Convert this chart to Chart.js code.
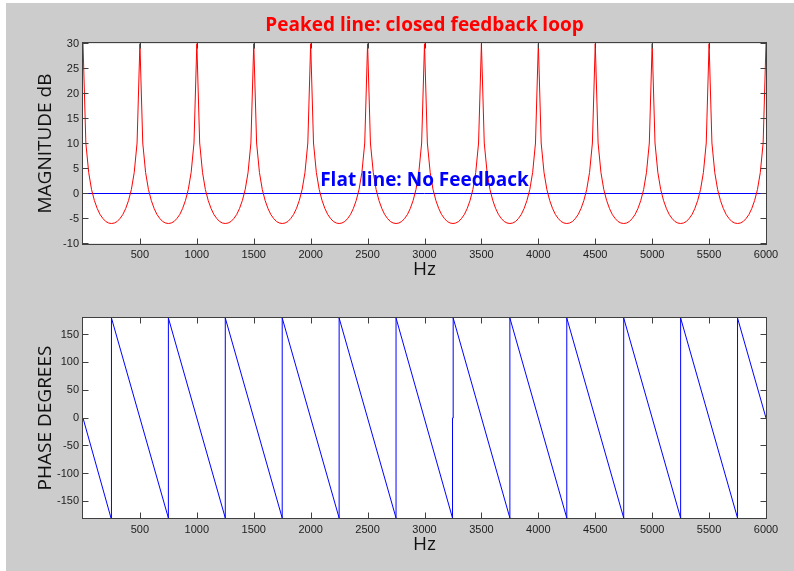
<!DOCTYPE html>
<html>
<head>
<meta charset="utf-8">
<script src="https://cdn.jsdelivr.net/npm/chart.js@4.4.1/dist/chart.umd.min.js"></script>
<style>
  body { margin: 0; background: #fff; }
  .figure { position: absolute; left: 6px; top: 3px; width: 788px; height: 568px; background: #cccccc; }
  canvas { position: absolute; left: 0; }
  #magChart { top: 0; }
  #phaseChart { top: 300px; }
</style>
</head>
<body>
<div class="figure">
  <canvas id="magChart" width="788" height="300"></canvas>
  <canvas id="phaseChart" width="788" height="268"></canvas>
</div>
<script>
// comb filter response, sampled every 25 Hz from 0 to 6000 Hz
const magStepHz = 25;
const magDb = [
  30, 10.1, 4.2, 0.8, -1.4, -3.0, -4.2, -5.0, -5.6, -5.9, -6.0, -5.9, -5.6, -5.0, -4.2, -3.0, -1.4, 0.8, 4.2, 10.1,
  30, 10.1, 4.2, 0.8, -1.4, -3.0, -4.2, -5.0, -5.6, -5.9, -6.0, -5.9, -5.6, -5.0, -4.2, -3.0, -1.4, 0.8, 4.2, 10.1,
  30, 10.1, 4.2, 0.8, -1.4, -3.0, -4.2, -5.0, -5.6, -5.9, -6.0, -5.9, -5.6, -5.0, -4.2, -3.0, -1.4, 0.8, 4.2, 10.1,
  30, 10.1, 4.2, 0.8, -1.4, -3.0, -4.2, -5.0, -5.6, -5.9, -6.0, -5.9, -5.6, -5.0, -4.2, -3.0, -1.4, 0.8, 4.2, 10.1,
  30, 10.1, 4.2, 0.8, -1.4, -3.0, -4.2, -5.0, -5.6, -5.9, -6.0, -5.9, -5.6, -5.0, -4.2, -3.0, -1.4, 0.8, 4.2, 10.1,
  30, 10.1, 4.2, 0.8, -1.4, -3.0, -4.2, -5.0, -5.6, -5.9, -6.0, -5.9, -5.6, -5.0, -4.2, -3.0, -1.4, 0.8, 4.2, 10.1,
  30, 10.1, 4.2, 0.8, -1.4, -3.0, -4.2, -5.0, -5.6, -5.9, -6.0, -5.9, -5.6, -5.0, -4.2, -3.0, -1.4, 0.8, 4.2, 10.1,
  30, 10.1, 4.2, 0.8, -1.4, -3.0, -4.2, -5.0, -5.6, -5.9, -6.0, -5.9, -5.6, -5.0, -4.2, -3.0, -1.4, 0.8, 4.2, 10.1,
  30, 10.1, 4.2, 0.8, -1.4, -3.0, -4.2, -5.0, -5.6, -5.9, -6.0, -5.9, -5.6, -5.0, -4.2, -3.0, -1.4, 0.8, 4.2, 10.1,
  30, 10.1, 4.2, 0.8, -1.4, -3.0, -4.2, -5.0, -5.6, -5.9, -6.0, -5.9, -5.6, -5.0, -4.2, -3.0, -1.4, 0.8, 4.2, 10.1,
  30, 10.1, 4.2, 0.8, -1.4, -3.0, -4.2, -5.0, -5.6, -5.9, -6.0, -5.9, -5.6, -5.0, -4.2, -3.0, -1.4, 0.8, 4.2, 10.1,
  30, 10.1, 4.2, 0.8, -1.4, -3.0, -4.2, -5.0, -5.6, -5.9, -6.0, -5.9, -5.6, -5.0, -4.2, -3.0, -1.4, 0.8, 4.2, 10.1,
  30
];

// no feedback: 0 dB everywhere
const flatHz = [0, 6000];
const flatDb = [0, 0];

// phase corners of the sawtooth
const phaseHz = [0, 246, 246, 252, 252, 750, 750, 1250, 1250, 1750, 1750, 2250, 2250, 2750, 2750,
  3246, 3246, 3252, 3252, 3750, 3750, 4250, 4250, 4750, 4750, 5250, 5250, 5750, 5750, 6000];
const phaseDeg = [0, -180, 0, 0, 180, -180, 180, -180, 180, -180, 180, -180, 180, -180, 180,
  -180, 0, 0, 180, -180, 180, -180, 180, -180, 180, -180, 180, -180, 180, 0];

const hzTicks = [500, 1000, 1500, 2000, 2500, 3000, 3500, 4000, 4500, 5000, 5500, 6000];
const dbTicks = [-10, -5, 0, 5, 10, 15, 20, 25, 30];
const degTicks = [-150, -100, -50, 0, 50, 100, 150];

const magPoints = magDb.map((v, i) => ({ x: i * magStepHz, y: v }));
const flatPoints = flatHz.map((f, i) => ({ x: f, y: flatDb[i] }));
const phasePoints = phaseHz.map((f, i) => ({ x: f, y: phaseDeg[i] }));

const tickFont = { family: 'Liberation Sans, Arial, sans-serif', size: 11 };
const titleFont = { family: 'Open Sans, sans-serif', size: 19 };

// white plot box, inward ticks on all four sides like a matlab axes
const axesBox = {
  id: 'axesBox',
  beforeDatasetsDraw(chart) {
    const { ctx, chartArea: a } = chart;
    ctx.save();
    ctx.fillStyle = '#fff';
    ctx.fillRect(a.left, a.top, a.width, a.height);
    ctx.restore();
  },
  afterDraw(chart) {
    const { ctx, chartArea: a, scales: { x, y } } = chart;
    const len = 6;
    const x0 = Math.round(a.left) - 0.5, x1 = Math.round(a.right) + 0.5;
    const y0 = Math.floor(a.top) - 0.5, y1 = Math.ceil(a.bottom) + 0.5;
    ctx.save();
    ctx.strokeStyle = '#404040';
    ctx.lineWidth = 1;
    ctx.beginPath();
    x.ticks.forEach(t => {
      const px = Math.round(x.getPixelForValue(t.value)) + 0.5;
      ctx.moveTo(px, y1); ctx.lineTo(px, y1 - len);
      ctx.moveTo(px, y0); ctx.lineTo(px, y0 + len);
    });
    y.ticks.forEach(t => {
      const py = Math.floor(y.getPixelForValue(t.value)) + 0.5;
      ctx.moveTo(x0, py); ctx.lineTo(x0 + len, py);
      ctx.moveTo(x1, py); ctx.lineTo(x1 - len, py);
    });
    ctx.stroke();
    ctx.strokeRect(x0, y0, x1 - x0, y1 - y0);
    ctx.restore();
  }
};

// red title above the magnitude plot and the blue note on the 0 dB line
const magNotes = {
  id: 'magNotes',
  afterDraw(chart) {
    const { ctx, chartArea: a, scales: { x, y } } = chart;
    ctx.save();
    ctx.textAlign = 'center';
    ctx.textBaseline = 'middle';
    ctx.font = 'bold 19px "Open Sans", sans-serif';
    ctx.fillStyle = '#ff0000';
    ctx.fillText('Peaked line: closed feedback loop', (a.left + a.right) / 2, 23);
    ctx.fillStyle = '#0000ff';
    ctx.fillText('Flat line: No Feedback', x.getPixelForValue(3000), y.getPixelForValue(2.6));
    ctx.restore();
  }
};

function axes(min, max, ticks, yTitle, xHeight, hzPad) {
  return {
    x: {
      type: 'linear', min: 0, max: 6000,
      afterBuildTicks: s => { s.ticks = hzTicks.map(v => ({ value: v })); },
      afterFit: s => { s.height = xHeight; },
      grid: { display: false, drawTicks: false },
      border: { display: false },
      ticks: { font: tickFont, color: '#222', padding: 5, maxRotation: 0, autoSkip: false, callback: v => String(v) },
      title: { display: true, text: 'Hz', font: titleFont, color: '#111', padding: { top: 0, bottom: hzPad } }
    },
    y: {
      type: 'linear', min: min, max: max,
      afterBuildTicks: s => { s.ticks = ticks.map(v => ({ value: v })); },
      afterFit: s => { s.width = 77; },
      grid: { display: false, drawTicks: false },
      border: { display: false },
      ticks: { font: tickFont, color: '#222', padding: 4, autoSkip: false, callback: v => String(v) },
      title: { display: true, text: yTitle, font: titleFont, color: '#111', padding: { top: 28, bottom: 0 } }
    }
  };
}

const common = {
  responsive: false,
  animation: false,
  events: [],
  plugins: { legend: { display: false }, tooltip: { enabled: false } },
  elements: { point: { radius: 0 }, line: { borderWidth: 1, tension: 0 } }
};

new Chart(document.getElementById('magChart'), {
  type: 'line',
  data: {
    datasets: [
      { data: magPoints, borderColor: '#ff0000' },
      { data: flatPoints, borderColor: '#0000ff' }
    ]
  },
  options: Object.assign({}, common, {
    layout: { padding: { top: 40.5, right: 28, left: 0, bottom: 0 } },
    scales: axes(-10, 30, dbTicks, 'MAGNITUDE dB', 59.5, 22)
  }),
  plugins: [axesBox, magNotes]
});

new Chart(document.getElementById('phaseChart'), {
  type: 'line',
  data: {
    datasets: [
      { data: phasePoints, borderColor: '#0000ff' }
    ]
  },
  options: Object.assign({}, common, {
    layout: { padding: { top: 15, right: 28, left: 0, bottom: 0 } },
    scales: axes(-180, 180, degTicks, 'PHASE DEGREES', 53, 15)
  }),
  plugins: [axesBox]
});
</script>
</body>
</html>
